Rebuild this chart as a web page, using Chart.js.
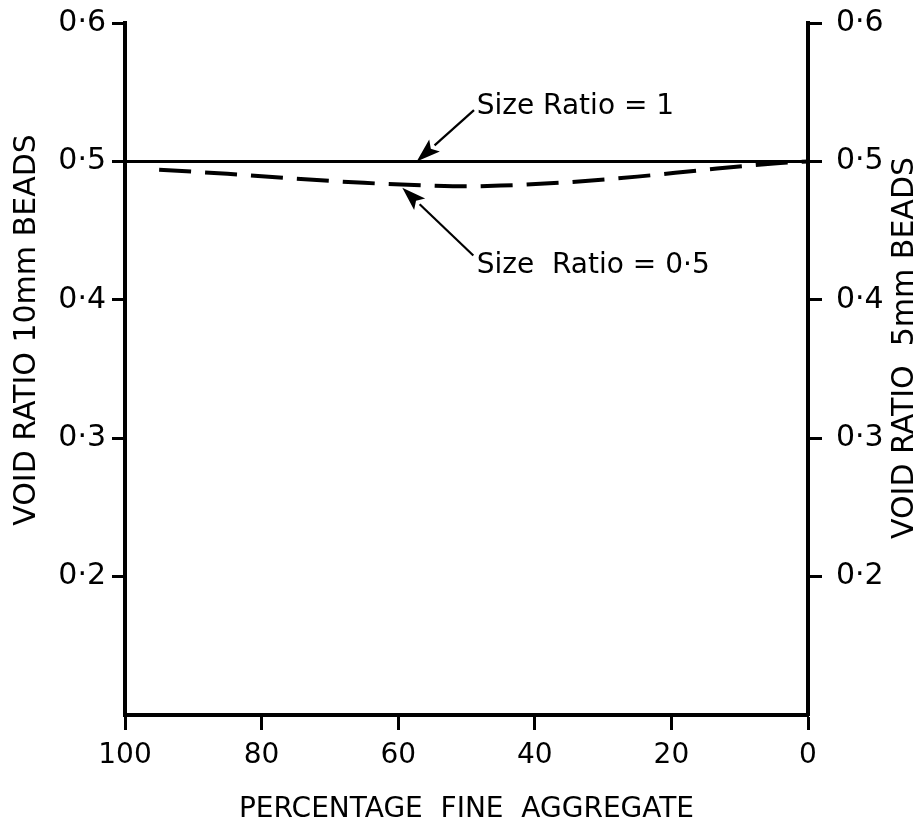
<!DOCTYPE html>
<html lang="en">
<head>
<meta charset="utf-8"/>
<title>Void ratio vs percentage fine aggregate</title>
<script src="https://cdn.jsdelivr.net/npm/chart.js@4.4.0/dist/chart.umd.min.js"></script>
<style>
    html, body { margin: 0; padding: 0; background: #fff; }
    .wrap { width: 924px; height: 827px; }
</style>
</head>
<body>
<div class="wrap">
    <canvas id="chart1"></canvas>
</div>
<script>
    // values
    const xTicks = [100, 80, 60, 40, 20, 0];
    const yTicks = [0.2, 0.3, 0.4, 0.5, 0.6];

    const ratio1X = [100, 0];
    const ratio1Y = [0.5, 0.5];

    const ratio05X = [95, 85, 75, 65, 55, 50, 45, 35, 25, 15, 5, 0];
    const ratio05Y = [0.494, 0.491, 0.4875, 0.4845, 0.4825, 0.482, 0.4825, 0.485, 0.489, 0.494, 0.4985, 0.500];

    // callouts: label text, label anchor, arrow tail and tip (data units)
    const notes = [
        { text: 'Size Ratio = 1',    lx: 48.5, ly: 0.5395, tx: 48.9, ty: 0.537, hx: 57.3, hy: 0.5 },
        { text: 'Size  Ratio = 0\u00B75', lx: 48.5, ly: 0.4245, tx: 49.0, ty: 0.432, hx: 59.4, hy: 0.481 }
    ];

    const FONT = 'DejaVu Sans';

    function fmt(v) {
        return v.toFixed(1).replace('.', '\u00B7');
    }

    function toPoints(xs, ys) {
        return xs.map((x, i) => ({ x: x, y: ys[i] }));
    }

    function vText(ctx, text, x, y) {
        ctx.save();
        ctx.translate(x, y);
        ctx.rotate(-Math.PI / 2);
        ctx.textAlign = 'center';
        ctx.textBaseline = 'middle';
        ctx.fillText(text, 0, 0);
        ctx.restore();
    }

    // fixed box sizes, no extra room for overhanging labels
    function fixBox(w, h) {
        return function (scale) {
            if (w) scale.width = w;
            if (h) scale.height = h;
            scale.paddingTop = 0;
            scale.paddingBottom = 0;
            scale.paddingLeft = 0;
            scale.paddingRight = 0;
        };
    }

    const calloutPlugin = {
        id: 'callouts',
        afterDatasetsDraw(chart) {
            const ctx = chart.ctx;
            const xs = chart.scales.x, ys = chart.scales.y;
            ctx.save();
            ctx.strokeStyle = '#000';
            ctx.fillStyle = '#000';
            ctx.lineWidth = 2.2;
            notes.forEach(n => {
                const x0 = xs.getPixelForValue(n.tx), y0 = ys.getPixelForValue(n.ty);
                const x1 = xs.getPixelForValue(n.hx), y1 = ys.getPixelForValue(n.hy);
                const a = Math.atan2(y1 - y0, x1 - x0);
                const L = 24, W = 8;
                const bx = x1 - L * Math.cos(a), by = y1 - L * Math.sin(a);
                ctx.beginPath();
                ctx.moveTo(x0, y0);
                ctx.lineTo(bx, by);
                ctx.stroke();
                ctx.beginPath();
                ctx.moveTo(x1, y1);
                ctx.lineTo(bx + W * Math.sin(a), by - W * Math.cos(a));
                ctx.lineTo(bx + 5 * Math.cos(a), by + 5 * Math.sin(a));
                ctx.lineTo(bx - W * Math.sin(a), by + W * Math.cos(a));
                ctx.closePath();
                ctx.fill();

                ctx.font = '28px "' + FONT + '"';
                ctx.textAlign = 'left';
                ctx.textBaseline = 'middle';
                ctx.fillText(n.text, xs.getPixelForValue(n.lx), ys.getPixelForValue(n.ly));
            });

            // axis titles, both reading bottom to top
            ctx.font = '30px "' + FONT + '"';
            vText(ctx, 'VOID RATIO 10mm BEADS', 27, 330);
            vText(ctx, 'VOID RATIO  5mm BEADS', 905, 348);
            ctx.restore();
        }
    };

    const tickFont = { family: FONT, size: 30 };

    const yCommon = {
        type: 'linear',
        min: 0.1,
        max: 0.6,
        afterBuildTicks: function (scale) {
            scale.ticks = yTicks.map(v => ({ value: v }));
        },
        ticks: {
            color: '#000',
            font: tickFont,
            callback: v => fmt(v)
        },
        grid: {
            drawOnChartArea: false,
            color: '#000',
            tickColor: '#000',
            tickWidth: 3
        },
        border: { display: true, color: '#000', width: 4 }
    };

    const chart1 = new Chart(document.getElementById('chart1'), {
        type: 'line',
        data: {
            datasets: [
                {
                    label: 'Size Ratio = 1',
                    data: toPoints(ratio1X, ratio1Y),
                    borderColor: '#000',
                    borderWidth: 3,
                    pointRadius: 0,
                    fill: false
                },
                {
                    label: 'Size Ratio = 0.5',
                    data: toPoints(ratio05X, ratio05Y),
                    borderColor: '#000',
                    borderWidth: 4,
                    borderDash: [32, 14],
                    pointRadius: 0,
                    cubicInterpolationMode: 'monotone',
                    fill: false
                }
            ]
        },
        options: {
            responsive: true,
            maintainAspectRatio: false,
            animation: false,
            layout: { padding: { top: 23, left: 0, right: 0, bottom: 0 } },
            plugins: {
                legend: { display: false },
                tooltip: { enabled: false }
            },
            scales: {
                x: {
                    type: 'linear',
                    reverse: true,
                    min: 0,
                    max: 100,
                    afterBuildTicks: function (scale) {
                        scale.ticks = xTicks.map(v => ({ value: v }));
                    },
                    afterFit: fixBox(0, 112),
                    ticks: {
                        color: '#000',
                        font: { family: FONT, size: 28 },
                        padding: 9,
                        maxRotation: 0
                    },
                    grid: {
                        drawOnChartArea: false,
                        color: '#000',
                        tickColor: '#000',
                        tickLength: 15,
                        tickWidth: 3
                    },
                    border: { display: true, color: '#000', width: 4 },
                    title: {
                        display: true,
                        text: 'PERCENTAGE  FINE  AGGREGATE',
                        color: '#000',
                        font: { family: FONT, size: 28 },
                        padding: { top: 0, bottom: 0 }
                    }
                },
                y: Object.assign({}, yCommon, {
                    position: 'left',
                    afterFit: fixBox(125, 0),
                    ticks: Object.assign({}, yCommon.ticks, { padding: 6 }),
                    grid: Object.assign({}, yCommon.grid, { tickLength: 13 })
                }),
                yRight: Object.assign({}, yCommon, {
                    position: 'right',
                    afterFit: fixBox(116, 0),
                    ticks: Object.assign({}, yCommon.ticks, { padding: 14 }),
                    grid: Object.assign({}, yCommon.grid, { tickLength: 14 })
                })
            }
        },
        plugins: [calloutPlugin]
    });
</script>
</body>
</html>
